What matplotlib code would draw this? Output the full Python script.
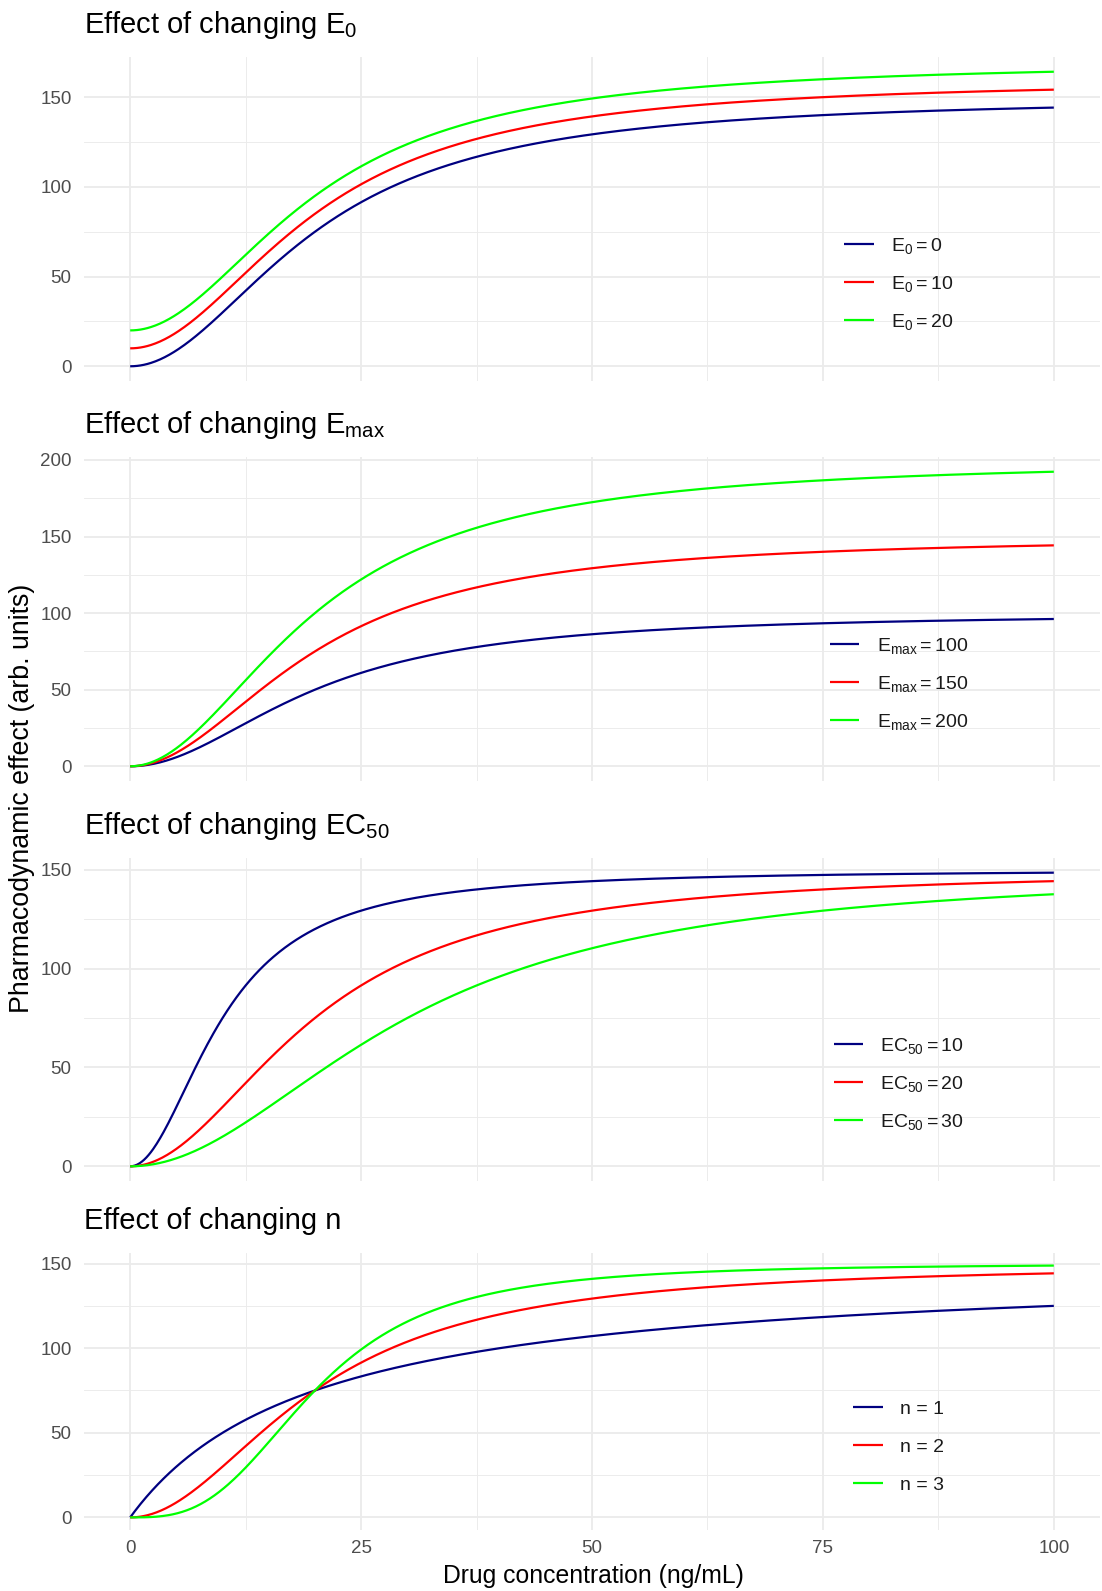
import numpy as np
import matplotlib
matplotlib.use("Agg")
import matplotlib.pyplot as plt

plt.rcParams['font.family'] = ['Liberation Sans', 'DejaVu Sans']
plt.rcParams['mathtext.fontset'] = 'custom'
plt.rcParams['mathtext.rm'] = 'Liberation Sans'
plt.rcParams['mathtext.it'] = 'Liberation Sans'
plt.rcParams['mathtext.default'] = 'regular'

# ---- data (model parameters shown in the legends) ----
conc = np.linspace(0, 100, 801)          # drug concentration grid (ng/mL)
default_E0, default_Emax, default_EC50, default_n = 0, 150, 20, 2
e0_values = [0, 10, 20]
emax_values = [100, 150, 200]
ec50_values = [10, 20, 30]
n_values = [1, 2, 3]

titles = [r"Effect of changing $\mathregular{E_0}$",
          r"Effect of changing $\mathregular{E_{max}}$",
          r"Effect of changing $\mathregular{EC_{50}}$",
          "Effect of changing n"]
labels = [[r"$\mathregular{E_0 = %d}$" % v for v in e0_values],
          [r"$\mathregular{E_{max} = %d}$" % v for v in emax_values],
          [r"$\mathregular{EC_{50} = %d}$" % v for v in ec50_values],
          ["n = %d" % v for v in n_values]]
ymajor = [[0, 50, 100, 150], [0, 50, 100, 150, 200], [0, 50, 100, 150], [0, 50, 100, 150]]
yminor = [[25, 75, 125], [25, 75, 125, 175], [25, 75, 125], [25, 75, 125]]
xmajor = [0, 25, 50, 75, 100]
xminor = [12.5, 37.5, 62.5, 87.5]
colors = ['#000080', '#FF0000', '#00FF00']


def emax_model(c, e0, emax, ec50, n):
    return e0 + emax * c ** n / (ec50 ** n + c ** n)


curves = [
    [emax_model(conc, v, default_Emax, default_EC50, default_n) for v in e0_values],
    [emax_model(conc, default_E0, v, default_EC50, default_n) for v in emax_values],
    [emax_model(conc, default_E0, default_Emax, v, default_n) for v in ec50_values],
    [emax_model(conc, default_E0, default_Emax, default_EC50, v) for v in n_values],
]

W, H = 1102, 1591
fig = plt.figure(figsize=(W / 100, H / 100), dpi=100)

left, right = 84, 1100
panels = [(57, 381), (457, 781), (858, 1181), (1253, 1530)]
spacings = [0.93, 0.93, 0.93, 1.05]

for i, (top, bot) in enumerate(panels):
    ax = fig.add_axes([left / W, 1 - bot / H, (right - left) / W, (bot - top) / H])
    for j in range(3):
        ax.plot(conc, curves[i][j], color=colors[j], lw=1.6, label=labels[i][j],
                zorder=3, solid_capstyle='butt')
    ax.margins(x=0.05, y=0.05)
    ax.set_xticks(xmajor)
    ax.set_xticks(xminor, minor=True)
    ax.set_yticks(ymajor[i])
    ax.set_yticks(yminor[i], minor=True)
    ax.grid(which='major', color='#EBEBEB', lw=1.3, zorder=0)
    ax.grid(which='minor', color='#EBEBEB', lw=0.65, zorder=0)
    ax.set_axisbelow(True)
    for s in ax.spines.values():
        s.set_visible(False)
    ax.tick_params(which='both', length=0)
    ax.tick_params(axis='y', labelsize=13.5, labelcolor='#4D4D4D', pad=9)
    if i == 3:
        ax.tick_params(axis='x', labelsize=13.5, labelcolor='#4D4D4D', pad=7)
    else:
        ax.tick_params(axis='x', labelbottom=False)
    leg = ax.legend(loc='center', bbox_to_anchor=(0.802, 0.3), frameon=False,
                    fontsize=14, handlelength=1.5, handletextpad=0.9,
                    labelspacing=spacings[i])
    for t in leg.get_texts():
        t.set_color('#1A1A1A')
    fig.text(left / W, 1 - (top - 24) / H, titles[i], fontsize=21,
             ha='left', va='baseline', color='black')

fig.text(22 / W, 1 - 798 / H, "Pharmacodynamic effect (arb. units)", rotation=90,
         ha='center', va='center', fontsize=19.3, color='black')
fig.text(593 / W, 1 - 1576 / H, "Drug concentration (ng/mL)",
         ha='center', va='center', fontsize=17.8, color='black')

fig.savefig("out.png", dpi=100, facecolor='white')
